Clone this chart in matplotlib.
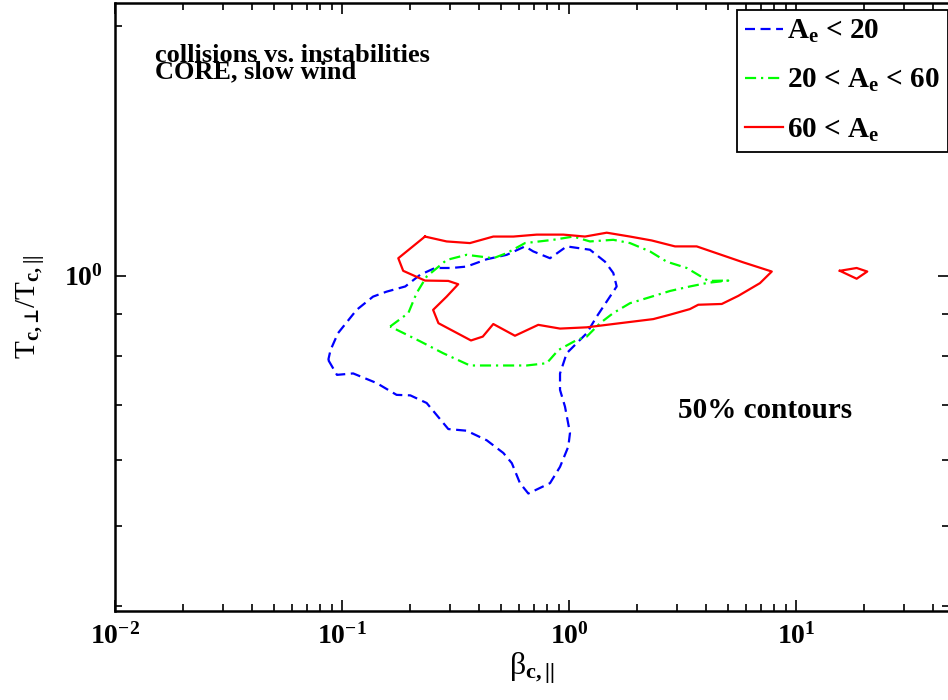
import numpy as np
import matplotlib
matplotlib.use("Agg")
import matplotlib.pyplot as plt
from matplotlib.ticker import LogLocator, NullFormatter

## Fonts: bold Times-like everywhere (also inside math text)
plt.rcParams['font.family'] = ['Liberation Serif', 'DejaVu Serif']
plt.rcParams['font.weight'] = 'bold'
plt.rcParams['mathtext.fontset'] = 'custom'
plt.rcParams['mathtext.rm'] = 'Liberation Serif:bold'
plt.rcParams['mathtext.it'] = 'Liberation Serif:bold'
plt.rcParams['mathtext.bf'] = 'Liberation Serif:bold'
plt.rcParams['mathtext.fallback'] = 'stix'

## 50% contours (beta_par, Tperp/Tpar)
blue_beta = [0.087, 0.095, 0.112, 0.142, 0.174, 0.200, 0.236, 0.294, 0.354, 0.434,
             0.514, 0.560, 0.608, 0.662, 0.825, 0.913, 0.993, 1.01, 0.960, 0.913,
             0.913, 0.977, 1.197, 1.324, 1.622, 1.567, 1.441, 1.237, 0.977, 0.825,
             0.696, 0.640, 0.532, 0.434, 0.354, 0.304, 0.257, 0.221, 0.190, 0.157,
             0.137, 0.116, 0.096, 0.089]
blue_ratio = [0.792, 0.760, 0.763, 0.743, 0.719, 0.718, 0.703, 0.654, 0.651, 0.634,
              0.612, 0.595, 0.563, 0.547, 0.563, 0.589, 0.623, 0.647, 0.696, 0.729,
              0.763, 0.807, 0.853, 0.893, 0.971, 1.008, 1.040, 1.075, 1.085, 1.050,
              1.070, 1.085, 1.060, 1.047, 1.026, 1.022, 1.022, 1.003, 0.971, 0.957,
              0.944, 0.910, 0.853, 0.814]

green_beta = [0.163, 0.196, 0.213, 0.236, 0.289, 0.354, 0.464, 0.532, 0.640, 0.853,
              1.045, 1.237, 1.567, 1.857, 2.274, 2.694, 3.301, 4.11, 5.03, 4.11,
              3.41, 2.79, 2.199, 1.857, 1.567, 1.370, 1.197, 1.081, 0.897, 0.798,
              0.651, 0.497, 0.366, 0.279, 0.221]
green_ratio = [0.869, 0.902, 0.953, 0.998, 1.045, 1.060, 1.050, 1.065, 1.095, 1.105,
               1.115, 1.100, 1.105, 1.095, 1.070, 1.040, 1.022, 0.986, 0.987, 0.981,
               0.971, 0.959, 0.940, 0.927, 0.902, 0.877, 0.845, 0.837, 0.814, 0.785,
               0.780, 0.780, 0.780, 0.807, 0.834]

red_beta = [0.232, 0.289, 0.366, 0.464, 0.569, 0.721, 0.944, 1.176, 1.466, 1.857,
            2.313, 2.931, 3.652, 5.86, 7.82, 6.94, 5.57, 4.71, 3.71, 3.41,
            2.79, 2.35, 1.567, 1.197, 0.913, 0.732, 0.578, 0.464, 0.417, 0.370,
            0.266, 0.252, 0.289, 0.325, 0.294, 0.232, 0.186, 0.177]
red_ratio = [1.115, 1.100, 1.095, 1.115, 1.115, 1.121, 1.121, 1.115, 1.127, 1.115,
             1.103, 1.085, 1.085, 1.038, 1.012, 0.980, 0.946, 0.925, 0.923, 0.912,
             0.898, 0.887, 0.875, 0.867, 0.864, 0.873, 0.847, 0.875, 0.845, 0.836,
             0.877, 0.910, 0.944, 0.977, 0.986, 0.987, 1.014, 1.050]

# small red island near beta ~ 18
red2_beta = [15.6, 18.5, 20.6, 18.5]
red2_ratio = [1.014, 1.022, 1.012, 0.992]

labels = [r'A$_e$ < 20', r'20 < A$_e$ < 60', r'60 < A$_e$']


def closed(a):
    return np.append(a, a[0])


fig = plt.figure(figsize=(9.48, 7.0), dpi=100)
ax = fig.add_axes([115 / 948, 1 - 611 / 700, (949 - 115) / 948, (611 - 3) / 700])

ax.plot(closed(blue_beta), closed(blue_ratio), color=(0, 0, 1), lw=1.6,
        dashes=(4.5, 2.5), label=labels[0])
ax.plot(closed(green_beta), closed(green_ratio), color=(0, 1, 0), lw=1.6,
        dashes=(5, 2.2, 1, 2.2), label=labels[1])
ax.plot(closed(red_beta), closed(red_ratio), color=(1, 0, 0), lw=1.6, label=labels[2])
ax.plot(closed(red2_beta), closed(red2_ratio), color=(1, 0, 0), lw=1.6)

ax.set_xscale('log')
ax.set_yscale('log')
ax.set_xlim(1e-2, 10 ** ((949 - 569) / 227))
ax.set_ylim(0.395, 2.13)

## ticks: inward, on all four sides
ax.xaxis.set_major_locator(LogLocator(base=10))
ax.xaxis.set_minor_locator(LogLocator(base=10, subs=np.arange(2, 10)))
ax.yaxis.set_major_locator(LogLocator(base=10))
ax.yaxis.set_minor_locator(LogLocator(base=10, subs=np.arange(2, 10)))
ax.xaxis.set_minor_formatter(NullFormatter())
ax.yaxis.set_minor_formatter(NullFormatter())
ax.tick_params(which='both', direction='in', top=True, right=True, width=1.2,
               labelsize=20)
ax.tick_params(which='major', length=8)
ax.tick_params(which='minor', length=5)
ax.tick_params(axis='x', pad=9)
ax.tick_params(axis='y', pad=9)
for s in ax.spines.values():
    s.set_linewidth(1.8)

ax.set_xlabel('β$_{c,||}$', fontsize=23, labelpad=0)
ax.set_ylabel('T$_{c,⊥}$/T$_{c,||}$', fontsize=21, labelpad=12)

## annotations (two tightly packed lines, like the original)
fig.text(155 / 948, 1 - 44 / 700, 'collisions vs. instabilities\nCORE, slow wind',
         fontsize=19, va='top', ha='left', linespacing=0.62)
fig.text(678 / 948, 1 - 418 / 700, '50% contours', fontsize=21,
         va='baseline', ha='left')

leg = ax.legend(loc='upper right', bbox_to_anchor=(948 / 948, 1 - 10 / 700),
                bbox_transform=fig.transFigure, borderaxespad=0, fontsize=21,
                handlelength=1.3, handletextpad=0.15, labelspacing=0.75,
                borderpad=0.28, fancybox=False, framealpha=1)
leg.get_frame().set_edgecolor('black')
leg.get_frame().set_linewidth(1.3)

fig.savefig('out.png', dpi=100)
